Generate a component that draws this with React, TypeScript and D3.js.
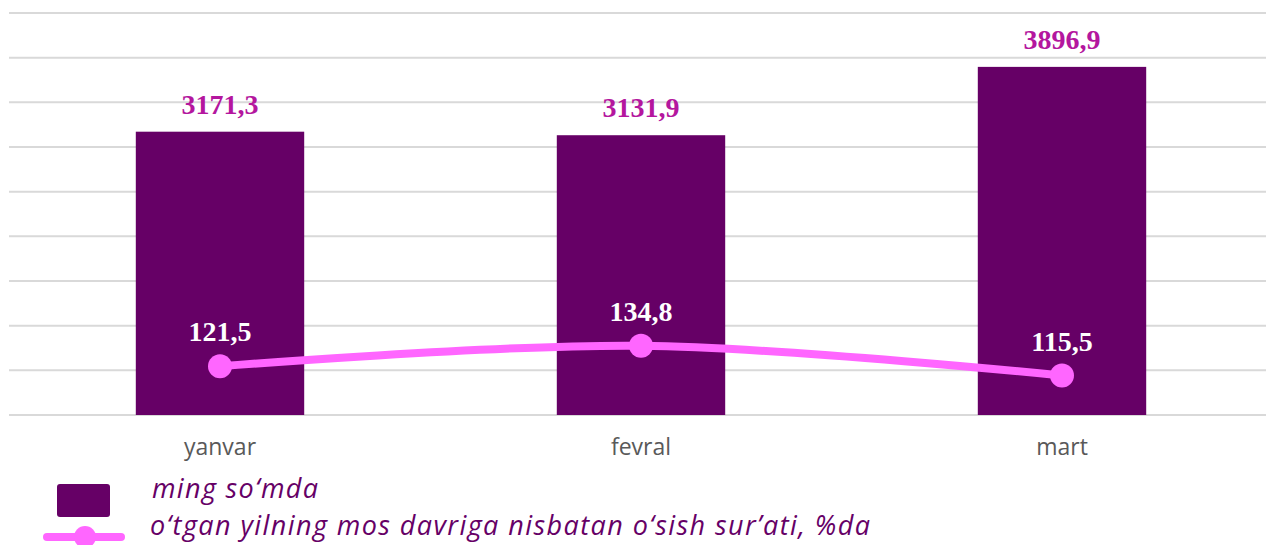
import React, { useEffect, useRef } from "react";
import * as d3 from "d3";

// chart data
const months = ["yanvar", "fevral", "mart"];
const amounts = [3171.3, 3131.9, 3896.9];
const growth = [121.5, 134.8, 115.5];
const legendLabels = [
  "ming so\u2018mda",
  "o\u2018tgan yilning mos davriga nisbatan o\u2018sish sur\u2019ati, %da",
];

const fmt = (v: number) => v.toFixed(1).replace(".", ",");

const App = () => {
  const ref = useRef<SVGSVGElement>(null);

  useEffect(() => {
    const width = 1266;
    const height = 545;
    const top = 13;
    const bottom = 415;

    const svg = d3.select(ref.current);
    svg.selectAll("*").remove();
    svg.attr("width", width).attr("height", height);

    const barColor = "#660066";
    const lineColor = "#FF66FF";
    const labelColor = "#B4169E";

    const x = d3.scaleBand().domain(months).range([9.5, 1272.5]).paddingInner(0.6).paddingOuter(0.3);
    const y = d3.scaleLinear().domain([0, 4500]).range([bottom, top]);
    const y2 = d3.scaleLinear().domain([90, 350]).range([bottom, top]);

    // horizontal gridlines
    svg
      .append("g")
      .selectAll("line")
      .data(y.ticks(10))
      .enter()
      .append("line")
      .attr("x1", 9)
      .attr("x2", width)
      .attr("y1", (d) => y(d))
      .attr("y2", (d) => y(d))
      .attr("stroke", "#d9d9d9")
      .attr("stroke-width", 2);

    // bars
    svg
      .append("g")
      .selectAll("rect")
      .data(amounts)
      .enter()
      .append("rect")
      .attr("x", (d, i) => x(months[i])!)
      .attr("width", x.bandwidth())
      .attr("y", (d) => y(d))
      .attr("height", (d) => bottom - y(d))
      .attr("fill", barColor);

    // bar value labels
    svg
      .append("g")
      .selectAll("text")
      .data(amounts)
      .enter()
      .append("text")
      .attr("x", (d, i) => x(months[i])! + x.bandwidth() / 2)
      .attr("y", (d) => y(d) - 18)
      .attr("text-anchor", "middle")
      .attr("font-family", "'Liberation Serif', serif")
      .attr("font-weight", "bold")
      .attr("font-size", 28)
      .attr("fill", labelColor)
      .text((d) => fmt(d));

    // growth line
    const line = d3
      .line<number>()
      .x((d, i) => x(months[i])! + x.bandwidth() / 2)
      .y((d) => y2(d))
      .curve(d3.curveCatmullRom.alpha(0.5));

    svg
      .append("path")
      .datum(growth)
      .attr("d", line)
      .attr("fill", "none")
      .attr("stroke", lineColor)
      .attr("stroke-width", 8)
      .attr("stroke-linecap", "round");

    svg
      .append("g")
      .selectAll("circle")
      .data(growth)
      .enter()
      .append("circle")
      .attr("cx", (d, i) => x(months[i])! + x.bandwidth() / 2)
      .attr("cy", (d) => y2(d))
      .attr("r", 12)
      .attr("fill", lineColor);

    svg
      .append("g")
      .selectAll("text")
      .data(growth)
      .enter()
      .append("text")
      .attr("x", (d, i) => x(months[i])! + x.bandwidth() / 2)
      .attr("y", (d) => y2(d) - 25)
      .attr("text-anchor", "middle")
      .attr("font-family", "'Liberation Serif', serif")
      .attr("font-weight", "bold")
      .attr("font-size", 28)
      .attr("fill", "#ffffff")
      .text((d) => fmt(d));

    // category axis labels
    svg
      .append("g")
      .selectAll("text")
      .data(months)
      .enter()
      .append("text")
      .attr("x", (d) => x(d)! + x.bandwidth() / 2)
      .attr("y", 455)
      .attr("text-anchor", "middle")
      .attr("font-family", "'Open Sans', sans-serif")
      .attr("font-size", 23)
      .attr("fill", "#595959")
      .text((d) => d);

    // legend
    const legend = svg.append("g");
    legend
      .append("rect")
      .attr("x", 57)
      .attr("y", 484)
      .attr("width", 53)
      .attr("height", 33)
      .attr("rx", 3)
      .attr("fill", barColor);
    legend
      .append("line")
      .attr("x1", 47)
      .attr("x2", 121)
      .attr("y1", 537)
      .attr("y2", 537)
      .attr("stroke", lineColor)
      .attr("stroke-width", 8)
      .attr("stroke-linecap", "round");
    legend
      .append("circle")
      .attr("cx", 85)
      .attr("cy", 537)
      .attr("r", 11)
      .attr("fill", lineColor);

    const legendWidths = [166, 720];
    legend
      .selectAll("text")
      .data(legendLabels)
      .enter()
      .append("text")
      .attr("x", (d, i) => (i === 0 ? 152 : 150))
      .attr("y", (d, i) => (i === 0 ? 498 : 535))
      .attr("font-family", "'Open Sans', sans-serif")
      .attr("font-style", "italic")
      .attr("font-size", 27)
      .attr("textLength", (d, i) => legendWidths[i])
      .attr("lengthAdjust", "spacing")
      .attr("fill", barColor)
      .text((d) => d);
  }, []);

  return (
    <svg
      ref={ref}
      style={{ position: "absolute", left: 0, top: 0, display: "block", background: "#fff" }}
    />
  );
};

export default App;
